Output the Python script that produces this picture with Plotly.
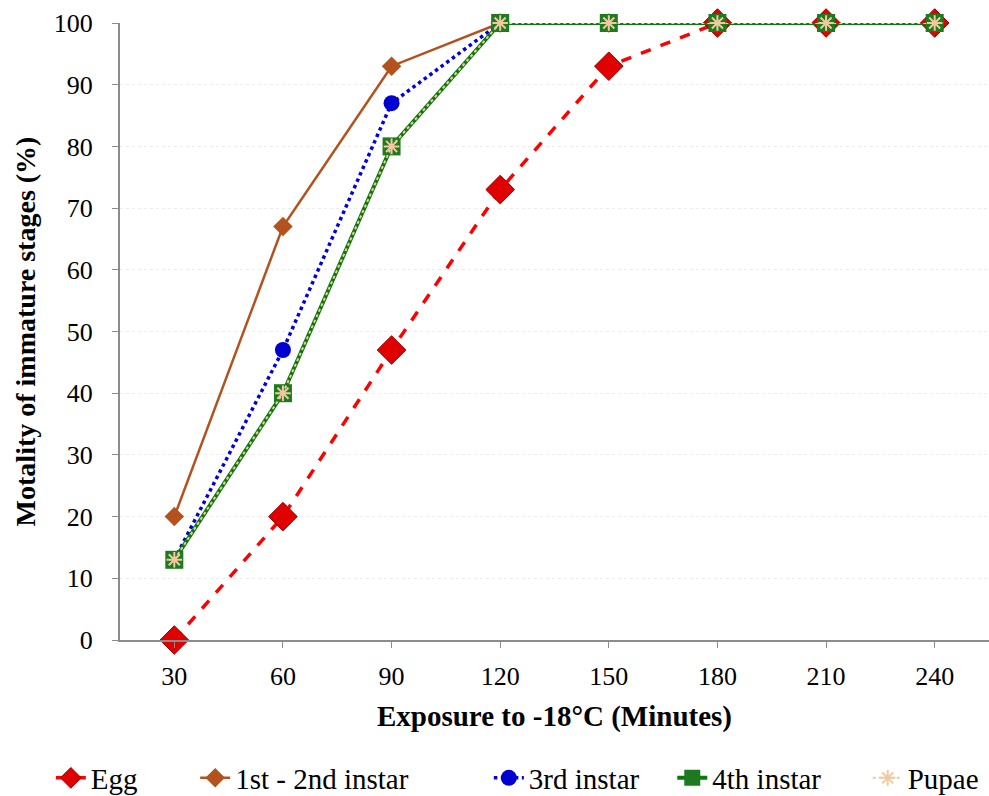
import plotly.graph_objects as go

minutes = ["30", "60", "90", "120", "150", "180", "210", "240"]
egg = [0, 20, 47, 73, 93, 100, 100, 100]
instar12 = [20, 67, 93, 100, 100, 100, 100, 100]
instar3 = [13, 47, 87, 100, 100, 100, 100, 100]
instar4 = [13, 40, 80, 100, 100, 100, 100, 100]
pupae = [13, 40, 80, 100, 100, 100, 100, 100]

xs = list(range(len(minutes)))
fig = go.Figure()
fig.add_trace(go.Scatter(x=xs, y=egg, name="Egg", mode="lines+markers", legend="legend",
    line=dict(color="#FF0000", width=3.5, dash="dash"),
    marker=dict(symbol="diamond", size=22, color="#E00000", line=dict(color="#A00000", width=1))))
fig.add_trace(go.Scatter(x=xs, y=instar12, name="1st - 2nd instar", mode="lines+markers", legend="legend2",
    line=dict(color="#B4521E", width=2.5),
    marker=dict(symbol="diamond", size=15, color="#B4521E")))
fig.add_trace(go.Scatter(x=xs, y=instar3, name="3rd instar", mode="lines+markers", legend="legend3",
    line=dict(color="#0000E0", width=3.5, dash="dot"),
    marker=dict(symbol="circle", size=16, color="#0000D0")))
fig.add_trace(go.Scatter(x=xs, y=instar4, name="4th instar", mode="lines+markers", legend="legend4",
    line=dict(color="#0A7A0A", width=4),
    marker=dict(symbol="square", size=18, color="#1E7A1E")))
fig.add_trace(go.Scatter(x=xs, y=pupae, name="Pupae", mode="lines+markers", legend="legend5",
    line=dict(color="#F2C8A0", width=2, dash="dot"),
    marker=dict(symbol="asterisk", size=13, color="#F2C8A0", line=dict(color="#F2C8A0", width=2))))
fig.update_traces(cliponaxis=False)

def px2paper(px):
    return (px - 120) / 867.0

leg_common = dict(orientation="h", xanchor="left", y=-0.2237, yanchor="middle",
                  font=dict(family="Liberation Serif", size=29, color="#000"),
                  bgcolor="rgba(0,0,0,0)")
legend_text_starts = [93, 237, 530, 713, 908]
legends = {}
for i, ts in enumerate(legend_text_starts):
    key = "legend" if i == 0 else f"legend{i+1}"
    legends[key] = dict(leg_common, x=px2paper(ts - 42))

fig.update_layout(
    width=989, height=796,
    margin=dict(l=120, r=0, t=23, b=156, autoexpand=False),
    plot_bgcolor="white", paper_bgcolor="white",
    font=dict(family="Liberation Serif", size=26, color="#000"),
    showlegend=True,
    **legends,
    xaxis=dict(tickmode="array", tickvals=xs, ticktext=minutes, range=[-0.5, 7.5],
               showline=True, linecolor="#8c8c8c", linewidth=2, ticks="outside",
               tickcolor="#8c8c8c", ticklen=6, showgrid=False, zeroline=False, automargin=False,
               tickfont=dict(size=26, color="#000"), ticklabelstandoff=6,
               title=dict(text="<b>Exposure to -18°C (Minutes)</b>", font=dict(size=29), standoff=15)),
    yaxis=dict(range=[0, 100], dtick=10, showline=True, linecolor="#8c8c8c", linewidth=2,
               ticks="outside", tickcolor="#8c8c8c", ticklen=6, showgrid=True, automargin=False,
               gridcolor="#ececec", griddash="dot", zeroline=False,
               tickfont=dict(size=26, color="#000"), ticklabelstandoff=14,
               title=dict(text="<b>Motality of immature stages (%)</b>", font=dict(size=28), standoff=10)),
)
fig.write_html("out.html")
